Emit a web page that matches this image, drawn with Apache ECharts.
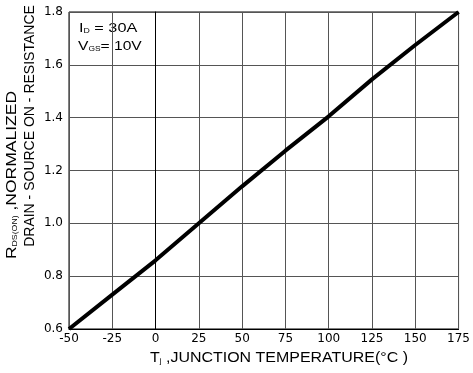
<!DOCTYPE html>
<html>
<head>
<meta charset="utf-8">
<script src="https://cdn.jsdelivr.net/npm/echarts@6/dist/echarts.min.js"></script>
<style>
  html, body { margin: 0; padding: 0; background: #fff; }
  #chart { width: 473px; height: 373px; }
</style>
</head>
<body>
<div id="chart"></div>
<script>
// junction temperature (°C) vs normalized RDS(on)
const temps = [-50, -25, 0, 25, 50, 75, 100, 125, 150, 175]
const rdsOn = [0.6, 0.73, 0.86, 1.0, 1.14, 1.275, 1.405, 1.545, 1.675, 1.8]

const chart = echarts.init(document.getElementById('chart'))
const font = 'Liberation Sans, Arial, sans-serif'
const tickFont = 'DejaVu Sans, sans-serif'
const sub = { fontSize: 7, fontFamily: font, color: '#000', verticalAlign: 'bottom', padding: [6, 0, 0, 0] }

chart.setOption({
  backgroundColor: '#fff',
  animation: false,
  grid: { left: 69, right: 14, top: 12, bottom: 44, show: true, borderColor: '#000', borderWidth: 1 },
  xAxis: {
    type: 'value',
    min: -50,
    max: 175,
    interval: 25,
    axisLine: { show: true, lineStyle: { color: '#000', width: 1 } },
    axisTick: { show: false },
    axisLabel: { color: '#000', fontSize: 12, fontFamily: tickFont, margin: 4 },
    splitLine: { show: true, lineStyle: { color: '#555', width: 1 } },
  },
  yAxis: {
    type: 'value',
    min: 0.6,
    max: 1.8,
    interval: 0.2,
    axisLine: { show: true, lineStyle: { color: '#000', width: 1 } },
    axisTick: { show: false },
    axisLabel: { color: '#000', fontSize: 12, fontFamily: tickFont, margin: 6, formatter: (v) => v.toFixed(1) },
    splitLine: { show: true, lineStyle: { color: '#555', width: 1 } },
  },
  graphic: [
    {
      // scaleX stretches along the text direction, even when rotated
      type: 'text', x: 12, y: 175, rotation: Math.PI / 2, scaleX: 1.25,
      style: {
        text: 'R{s|DS(ON)} ,NORMALIZED', font: '14px ' + font, fill: '#000',
        align: 'center', verticalAlign: 'middle', rich: { s: sub },
      },
    },
    {
      type: 'text', x: 30, y: 126, rotation: Math.PI / 2,
      style: {
        text: 'DRAIN - SOURCE ON - RESISTANCE', font: '14px ' + font, fill: '#000',
        align: 'center', verticalAlign: 'middle',
      },
    },
    {
      type: 'text', x: 79, y: 22, scaleX: 1.25,
      style: { text: 'I{s|D} = 30A', font: '13px ' + font, fill: '#000', rich: { s: sub } },
    },
    {
      type: 'text', x: 78, y: 40, scaleX: 1.2,
      style: { text: 'V{s|GS}= 10V', font: '13px ' + font, fill: '#000', rich: { s: sub } },
    },
    {
      type: 'text', x: 279, y: 358, scaleX: 1.14,
      style: {
        text: 'T{s|j} ,JUNCTION TEMPERATURE(°C )', font: '14px ' + font, fill: '#000',
        align: 'center', verticalAlign: 'middle', rich: { s: sub },
      },
    },
  ],
  series: [
    {
      type: 'line',
      data: temps.map((t, i) => [t, rdsOn[i]]),
      symbol: 'none',
      smooth: false,
      lineStyle: { color: '#000', width: 4 },
    },
  ],
})
</script>
</body>
</html>
